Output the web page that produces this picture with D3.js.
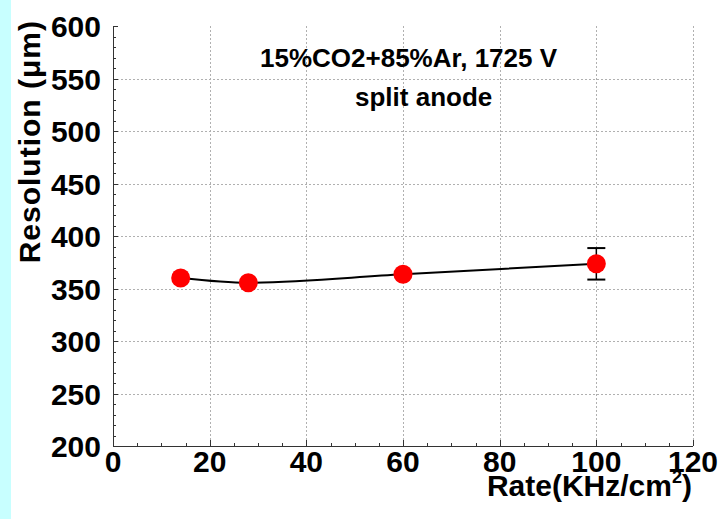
<!DOCTYPE html>
<html lang="en">
<head>
    <meta charset="UTF-8">
    <title>Resolution vs Rate</title>
    <script type="text/javascript" src="https://cdn.jsdelivr.net/npm/d3@7/dist/d3.min.js"></script>
    <style>
        body{
            margin: 0;
            background: #fff;
        }
        svg text{
            font-family: "Liberation Sans", Arial, Helvetica, sans-serif;
            font-weight: bold;
            fill: #000;
        }
        .grid line{
            stroke: #b0b0b0;
            stroke-width: 1;
            stroke-dasharray: 2,2;
            shape-rendering: crispEdges;
        }
        .axis line,
        .axis path{
            stroke: #333;
            fill: none;
            shape-rendering: crispEdges;
        }
    </style>
</head>
<body>
<div id="chart"></div>
<script type="text/javascript">
    // data
    var rates = [14, 28, 60, 100];
    var resolution = [360, 355.5, 363.5, 373.5];
    var resErr = [0, 0, 0, 15];

    var xTicks = [0, 20, 40, 60, 80, 100, 120];
    var yTicks = [200, 250, 300, 350, 400, 450, 500, 550, 600];
    var titleLines = ["15%CO2+85%Ar, 1725 V", "split anode"];

    var W = 722, H = 519;
    var pLeft = 113, pRight = 693, pTop = 26, pBottom = 446;

    var svg = d3.select("#chart").append("svg")
            .attr("width", W)
            .attr("height", H);

    svg.append("rect").attr("x", 0).attr("y", 0).attr("width", W).attr("height", H).attr("fill", "#fff");
    svg.append("rect").attr("x", 0).attr("y", 0).attr("width", 11).attr("height", H).attr("fill", "#c8ffff");

    var x = d3.scaleLinear().domain([0, 120]).range([pLeft, pRight]);
    var y = d3.scaleLinear().domain([200, 600]).range([pBottom, pTop]);

    // grid
    var grid = svg.append("g").attr("class", "grid");
    grid.selectAll("line.v")
            .data(xTicks.filter(function(d){ return d > 0; }))
            .enter().append("line")
            .attr("class", "v")
            .attr("x1", function(d){ return Math.round(x(d)) + 0.5; })
            .attr("x2", function(d){ return Math.round(x(d)) + 0.5; })
            .attr("y1", pTop).attr("y2", pBottom);
    grid.selectAll("line.h")
            .data(yTicks.filter(function(d){ return d > 200 && d < 600; }))
            .enter().append("line")
            .attr("class", "h")
            .attr("y1", function(d){ return Math.round(y(d)) + 0.5; })
            .attr("y2", function(d){ return Math.round(y(d)) + 0.5; })
            .attr("x1", pLeft).attr("x2", pRight);

    // axes, ticks inside
    var xMinor = d3.axisBottom(x).ticks(24).tickSize(-3).tickFormat("");
    var xMajor = d3.axisBottom(x).tickValues(xTicks).tickSize(-6).tickFormat("");
    var yMinor = d3.axisLeft(y).ticks(40).tickSize(-3).tickFormat("");
    var yMajor = d3.axisLeft(y).tickValues(yTicks).tickSize(-5).tickFormat("");

    svg.append("g").attr("class", "axis").attr("transform", "translate(0," + pBottom + ")").call(xMinor);
    svg.append("g").attr("class", "axis").attr("transform", "translate(0," + pBottom + ")").call(xMajor);
    svg.append("g").attr("class", "axis").attr("transform", "translate(" + pLeft + ",0)").call(yMinor);
    svg.append("g").attr("class", "axis").attr("transform", "translate(" + pLeft + ",0)").call(yMajor);
    svg.selectAll(".axis path").attr("d", null);
    svg.append("line").attr("x1", pLeft).attr("x2", pRight).attr("y1", pBottom + 0.5).attr("y2", pBottom + 0.5)
            .attr("stroke", "#333").attr("shape-rendering", "crispEdges");
    svg.append("line").attr("x1", pLeft + 0.5).attr("x2", pLeft + 0.5).attr("y1", pTop).attr("y2", pBottom)
            .attr("stroke", "#333").attr("shape-rendering", "crispEdges");

    // tick labels
    svg.selectAll("text.xl")
            .data(xTicks)
            .enter().append("text")
            .attr("class", "xl")
            .attr("x", function(d){ return x(d); })
            .attr("y", 472)
            .attr("text-anchor", "middle")
            .style("font-size", "30px")
            .text(function(d){ return d; });
    svg.selectAll("text.yl")
            .data(yTicks)
            .enter().append("text")
            .attr("class", "yl")
            .attr("x", 101)
            .attr("y", function(d){ return y(d) + 11; })
            .attr("text-anchor", "end")
            .style("font-size", "30px")
            .text(function(d){ return d; });

    // axis titles
    var xt = svg.append("text")
            .attr("x", 692)
            .attr("y", 496)
            .attr("text-anchor", "end")
            .style("font-size", "30px");
    xt.append("tspan").text("Rate(KHz/cm");
    xt.append("tspan").attr("dy", -13).style("font-size", "18px").text("2");
    xt.append("tspan").attr("dy", 13).text(")");

    svg.append("text")
            .attr("transform", "translate(40,20) rotate(-90)")
            .attr("text-anchor", "end")
            .style("font-size", "30px")
            .style("letter-spacing", "1px")
            .text("Resolution (\u03bcm)");

    // title
    svg.append("text").attr("x", 260).attr("y", 67).style("font-size", "26px").text(titleLines[0]);
    svg.append("text").attr("x", 355).attr("y", 106).style("font-size", "26px").text(titleLines[1]);

    // smooth line through points
    var pts = rates.map(function(r, i){ return [r, resolution[i], resErr[i]]; });
    var line = d3.line()
            .x(function(d){ return x(d[0]); })
            .y(function(d){ return y(d[1]); })
            .curve(d3.curveMonotoneX);
    svg.append("path")
            .datum(pts)
            .attr("d", line)
            .attr("fill", "none")
            .attr("stroke", "#000")
            .attr("stroke-width", 2);

    // error bars
    var eb = svg.append("g").selectAll("g")
            .data(pts.filter(function(d){ return d[2] > 0; }))
            .enter().append("g");
    eb.append("line")
            .attr("x1", function(d){ return x(d[0]); }).attr("x2", function(d){ return x(d[0]); })
            .attr("y1", function(d){ return y(d[1] - d[2]); }).attr("y2", function(d){ return y(d[1] + d[2]); })
            .attr("stroke", "#000").attr("stroke-width", 1.5);
    [-1, 1].forEach(function(s){
        eb.append("line")
                .attr("x1", function(d){ return x(d[0]) - 9; }).attr("x2", function(d){ return x(d[0]) + 9; })
                .attr("y1", function(d){ return y(d[1] + s * d[2]); }).attr("y2", function(d){ return y(d[1] + s * d[2]); })
                .attr("stroke", "#000").attr("stroke-width", 2);
    });

    // markers
    svg.append("g").selectAll("circle")
            .data(pts)
            .enter().append("circle")
            .attr("cx", function(d){ return x(d[0]); })
            .attr("cy", function(d){ return y(d[1]); })
            .attr("r", 9.5)
            .attr("fill", "#ff0000");
</script>
</body>
</html>
